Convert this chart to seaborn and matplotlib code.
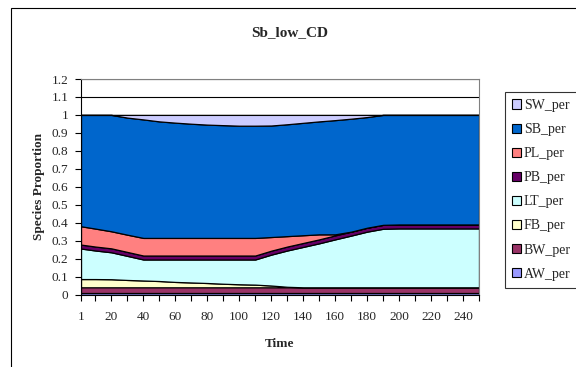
import matplotlib
matplotlib.use("Agg")
import matplotlib.pyplot as plt
from matplotlib.patches import Patch, Rectangle
import pandas as pd
import seaborn as sns

# Time points (categories of the original chart)
time = [1, 10, 20, 30, 40, 50, 60, 70, 80, 90, 100, 110, 120,
        130, 140, 150, 160, 170, 180, 190, 200, 210, 220, 230, 240, 250]

# Species proportions, bottom to top of the stack
aw_per = [0.01] * 26
bw_per = [0.03] * 26
fb_per = [0.046, 0.046, 0.045, 0.041, 0.038, 0.035, 0.030, 0.027, 0.024, 0.020,
          0.017, 0.015, 0.010, 0.003, 0, 0, 0, 0, 0, 0, 0, 0, 0, 0, 0, 0]
lt_per = [0.170, 0.159, 0.150, 0.134, 0.117, 0.120, 0.125, 0.128, 0.131, 0.135,
          0.138, 0.140, 0.172, 0.202, 0.225, 0.245, 0.267, 0.288, 0.310, 0.326,
          0.328, 0.328, 0.328, 0.328, 0.328, 0.328]
pb_per = [0.022] * 26
pl_per = [0.102, 0.100, 0.095, 0.096, 0.098, 0.098, 0.098, 0.098, 0.098, 0.098,
          0.098, 0.098, 0.076, 0.058, 0.043, 0.028, 0.006, 0, 0, 0, 0, 0, 0, 0, 0, 0]
sb_per = [0.620, 0.633, 0.648, 0.652, 0.660, 0.649, 0.642, 0.636, 0.631, 0.628,
          0.625, 0.625, 0.621, 0.623, 0.626, 0.629, 0.636, 0.629, 0.616, 0.612,
          0.610, 0.610, 0.610, 0.610, 0.610, 0.610]
sw_per = [0, 0, 0, 0.015, 0.025, 0.036, 0.043, 0.049, 0.054, 0.057, 0.060, 0.060,
          0.059, 0.052, 0.044, 0.036, 0.029, 0.021, 0.012, 0, 0, 0, 0, 0, 0, 0]

species = ["AW_per", "BW_per", "FB_per", "LT_per", "PB_per", "PL_per", "SB_per", "SW_per"]
colors = ["#9999FF", "#993366", "#FFFFCC", "#CCFFFF", "#660066", "#FF8080", "#0066CC", "#CCCCFF"]

df = pd.DataFrame({"Time": time, "AW_per": aw_per, "BW_per": bw_per, "FB_per": fb_per,
                   "LT_per": lt_per, "PB_per": pb_per, "PL_per": pl_per,
                   "SB_per": sb_per, "SW_per": sw_per})

sns.set_theme(style="white")
plt.rcParams['font.family'] = ['Liberation Serif', 'DejaVu Serif']

fig = plt.figure(figsize=(5.76, 3.67), dpi=100)
ax = fig.add_axes([81 / 576, 1 - 294.5 / 367, 398 / 576, 215.5 / 367])

# gridlines under the areas
for y in [0.1 * i for i in range(1, 13)]:
    ax.axhline(y, color="black", lw=0.8, zorder=0)

ax.stackplot(df["Time"], *[df[s] for s in species], colors=colors,
             edgecolor="black", linewidth=0.9, zorder=2)

ax.set_xlim(1, 250)
ax.set_ylim(0, 1.2)
ax.set_yticks([0.1 * i for i in range(13)])
ax.set_yticklabels(["0", "0.1", "0.2", "0.3", "0.4", "0.5", "0.6", "0.7", "0.8",
                    "0.9", "1", "1.1", "1.2"], fontsize=9.5)
ax.set_xticks(time)
ax.set_xticklabels([str(t) if (t == 1 or t % 20 == 0) else "" for t in time], fontsize=9.5)
ax.tick_params(axis="both", direction="out", length=4, width=0.8, color="black",
               bottom=True, left=True, pad=5)
ax.tick_params(axis="x", pad=8)

for side in ["top", "right"]:
    ax.spines[side].set_color("#808080")
    ax.spines[side].set_linewidth(0.8)
for side in ["left", "bottom"]:
    ax.spines[side].set_color("black")
    ax.spines[side].set_linewidth(0.8)

ax.set_xlabel("Time", fontsize=9.5, fontweight="bold", labelpad=11)
ax.set_ylabel("Species Proportion", fontsize=9.5, fontweight="bold", labelpad=5)
fig.text(290 / 576, 1 - 33 / 367, "Sb_low_CD", ha="center", va="center",
         fontsize=11, fontweight="bold")

handles = [Patch(facecolor=c, edgecolor="black", linewidth=0.8, label=s)
           for s, c in zip(species, colors)][::-1]
leg = fig.legend(handles=handles, loc="upper left", bbox_to_anchor=(505 / 576, 1 - 92 / 367),
                 frameon=True, fontsize=10, handlelength=0.65, handleheight=0.65,
                 handletextpad=0.2, labelspacing=0.8, borderpad=0.5,
                 borderaxespad=0, fancybox=False)
leg.get_frame().set_edgecolor("black")
leg.get_frame().set_linewidth(0.8)

# outer chart border
fig.patches.append(Rectangle((11 / 576, -0.1), 1.0, 1 - 8 / 367 + 0.1, transform=fig.transFigure,
                             fill=False, edgecolor="black", linewidth=0.8))

fig.savefig("out.png", dpi=100)
